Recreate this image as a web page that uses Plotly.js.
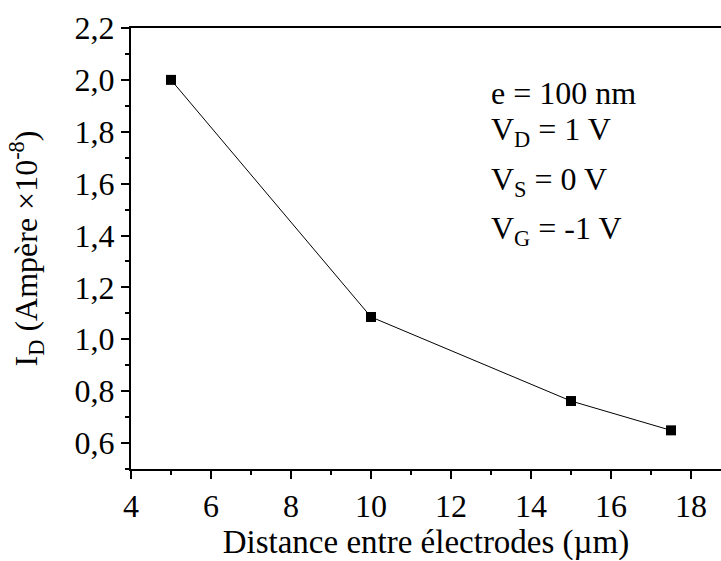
<!DOCTYPE html>
<html>
<head>
<meta charset="utf-8">
<script src="https://cdn.plot.ly/plotly-3.0.1.min.js"></script>
<style>html,body{margin:0;padding:0;background:#fff;}</style>
</head>
<body>
<div id="chart" style="width:721px;height:561px;"></div>
<script>
const distances = [5, 10, 15, 17.5];
const currents = [2.0, 1.086, 0.762, 0.649];
const annoTexts = ['e = 100 nm', 'V<sub>D</sub> = 1 V', 'V<sub>S</sub> = 0 V', 'V<sub>G</sub> = -1 V'];
const annoY = [1.95, 1.80, 1.607, 1.421];
const xTitle = 'Distance entre électrodes (µm)';
const yTitle = 'I<sub>D</sub> (Ampère ×10<sup>-8</sup>)';

const font = {family: 'Liberation Serif, Times New Roman, serif', color: '#000'};

const trace = {
  x: distances, y: currents, type: 'scatter', mode: 'lines+markers',
  line: {color: '#000', width: 1},
  marker: {symbol: 'square', size: 10, color: '#000'},
  showlegend: false, hoverinfo: 'none'
};

const annotations = annoTexts.map((t, i) => ({
  x: 12.95, y: annoY[i], xref: 'x', yref: 'y', text: t, showarrow: false,
  xanchor: 'left', yanchor: 'middle', font: Object.assign({size: 32}, font)
}));

const layout = {
  width: 721, height: 561,
  margin: {l: 131, r: 0, t: 28, b: 92},
  paper_bgcolor: '#fff', plot_bgcolor: '#fff',
  separators: ',.',
  font: Object.assign({size: 32}, font),
  xaxis: {
    range: [4, 18.75], dtick: 2, tick0: 4, showgrid: false, zeroline: false,
    showline: true, linecolor: '#000', linewidth: 2, mirror: true,
    ticks: 'outside', ticklen: 8, tickwidth: 2, tickcolor: '#000',
    tickfont: Object.assign({size: 32}, font),
    minor: {dtick: 1, tick0: 4, ticks: 'outside', ticklen: 4, tickwidth: 2, tickcolor: '#000', showgrid: false},
    title: {text: xTitle, font: Object.assign({size: 33}, font), standoff: 4}
  },
  yaxis: {
    range: [0.5, 2.2], dtick: 0.2, tick0: 0.6, tickformat: '.1f', showgrid: false, zeroline: false,
    showline: true, linecolor: '#000', linewidth: 2,
    ticks: 'outside', ticklen: 8, tickwidth: 2, tickcolor: '#000',
    tickfont: Object.assign({size: 32}, font),
    minor: {dtick: 0.1, tick0: 0.6, ticks: 'outside', ticklen: 4, tickwidth: 2, tickcolor: '#000', showgrid: false},
    title: {text: yTitle, font: Object.assign({size: 32}, font), standoff: 27}
  },
  annotations: annotations
};

Plotly.newPlot('chart', [trace], layout, {staticPlot: true, displayModeBar: false});
</script>
</body>
</html>
